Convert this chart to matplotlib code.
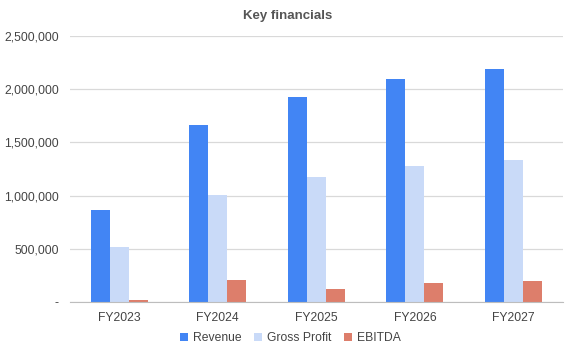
import matplotlib.pyplot as plt
import numpy as np
from matplotlib.ticker import FuncFormatter

plt.rcParams['font.family'] = ['Liberation Sans', 'DejaVu Sans']

# Data
years = ['FY2023', 'FY2024', 'FY2025', 'FY2026', 'FY2027']
revenue = [860000, 1660000, 1930000, 2100000, 2190000]
gross_profit = [520000, 1010000, 1175000, 1280000, 1335000]
ebitda = [20000, 210000, 125000, 180000, 200000]

series_names = ['Revenue', 'Gross Profit', 'EBITDA']
colors = ['#4285F4', '#C9DAF8', '#DD7E6B']

fig = plt.figure(figsize=(5.75, 3.55), dpi=100)
ax = fig.add_axes([0.1217, 0.1493, 0.857, 0.7493])

x = np.arange(len(years))
w = 0.193
for i, (vals, name, c) in enumerate(zip([revenue, gross_profit, ebitda], series_names, colors)):
    ax.bar(x + (i - 1) * w, vals, width=w, color=c, label=name, zorder=3)

ax.set_xlim(-0.5, len(years) - 0.5)
ax.set_ylim(0, 2500000)
ax.set_yticks(np.arange(0, 2500001, 500000))
ax.yaxis.set_major_formatter(FuncFormatter(lambda v, p: '-' if v == 0 else f'{int(v):,}'))
ax.set_xticks(x)
ax.set_xticklabels(years)

ax.grid(axis='y', color='#D9D9D9', linewidth=0.9, zorder=0)
for s in ['top', 'right', 'left']:
    ax.spines[s].set_visible(False)
ax.spines['bottom'].set_color('#BDBDBD')
ax.spines['bottom'].set_zorder(4)
ax.tick_params(axis='both', length=0, labelsize=8.7, colors='#444444')
ax.tick_params(axis='x', pad=7)
ax.tick_params(axis='y', pad=8)

fig.text(0.5, 0.955, 'Key financials', ha='center', va='center',
         fontsize=9.5, fontweight='bold', color='#555555')

fig.legend(loc='center', bbox_to_anchor=(0.505, 0.048), ncol=3, frameon=False,
           fontsize=8.7, handlelength=0.7, handleheight=0.7, handletextpad=0.4,
           columnspacing=1.0, labelcolor='#444444')

fig.savefig('out.png', dpi=100)
